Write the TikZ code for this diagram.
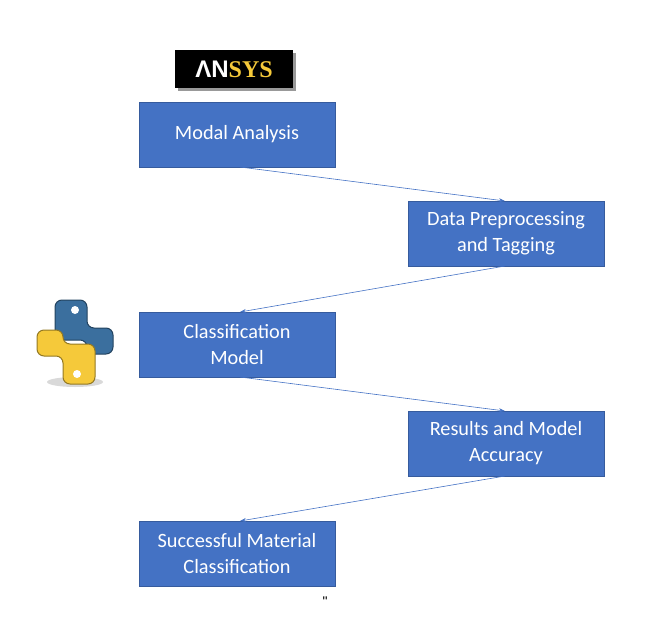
\documentclass[tikz,border=0pt]{standalone}
\usepackage{fontspec}
\setmainfont{Carlito}
\usetikzlibrary{arrows.meta}
\definecolor{boxblue}{HTML}{4472C4}
\definecolor{pyblue}{HTML}{3B6F9E}
\definecolor{pyyellow}{HTML}{F5C93A}
\begin{document}
\begin{tikzpicture}[x=1pt,y=-1pt,
  box/.style={draw=boxblue!80!black,fill=boxblue,text=white,minimum width=196pt,minimum height=65pt,align=center,font=\fontsize{20.3}{26}\selectfont,inner sep=0pt},
  conn/.style={draw=boxblue,line width=0.6pt,-{Stealth[length=6pt,width=4pt]}}]
\useasboundingbox (0,0) rectangle (645,632);
\node[box] (a) at (237,134.5) {Modal Analysis};
\node[box] (b) at (506,233.5) {Data Preprocessing\\and Tagging};
\node[box] (c) at (237,344.5) {Classification\\Model};
\node[box] (d) at (506,443.5) {Results and Model\\Accuracy};
\node[box] (e) at (237,553.5) {Successful Material\\Classification};
\coordinate (a1) at (240,167); \coordinate (b0) at (505,201);
\coordinate (b1) at (505,266); \coordinate (c0) at (240,312);
\coordinate (c1) at (240,377); \coordinate (d0) at (505,411);
\coordinate (d1) at (505,476); \coordinate (e0) at (240,521);
\draw[conn] (a1) -- (b0);
\draw[conn] (b1) -- (c0);
\draw[conn] (c1) -- (d0);
\draw[conn] (d1) -- (e0);
% ANSYS logo
\fill[black!40] (178,53) rectangle (296,91);
\node[fill=black,minimum width=118pt,minimum height=38pt,inner sep=0pt] (logo) at (234,69)
  {\fontsize{24}{24}\selectfont\bfseries\textcolor{white}{\fontspec{Liberation Sans}ΛN}\textcolor{pyyellow}{\fontspec{Liberation Serif}SYS}};
% Python logo
\begin{scope}[shift={(75,342)}]
\fill[black!15] (0,40) ellipse (28pt and 5pt);
\filldraw[fill=pyblue,draw=pyblue!60!black,line width=1pt,rounded corners=7pt]
  (-20,-42) -- (12,-42) -- (12,-14) -- (38,-14) -- (38,12) -- (12,12) -- (12,-2) -- (-20,-2) -- cycle;
\filldraw[fill=pyyellow,draw=pyyellow!60!black,line width=1pt,rounded corners=7pt]
  (20,42) -- (-12,42) -- (-12,14) -- (-38,14) -- (-38,-12) -- (-12,-12) -- (-12,2) -- (20,2) -- cycle;
\fill[white] (0,-32) circle (4pt);
\fill[white] (2,32) circle (4pt);
\end{scope}
\node[font=\fontspec{Liberation Sans}\fontsize{14}{14}\selectfont] (q) at (325,602) {\char34};
\end{tikzpicture}
\end{document}
